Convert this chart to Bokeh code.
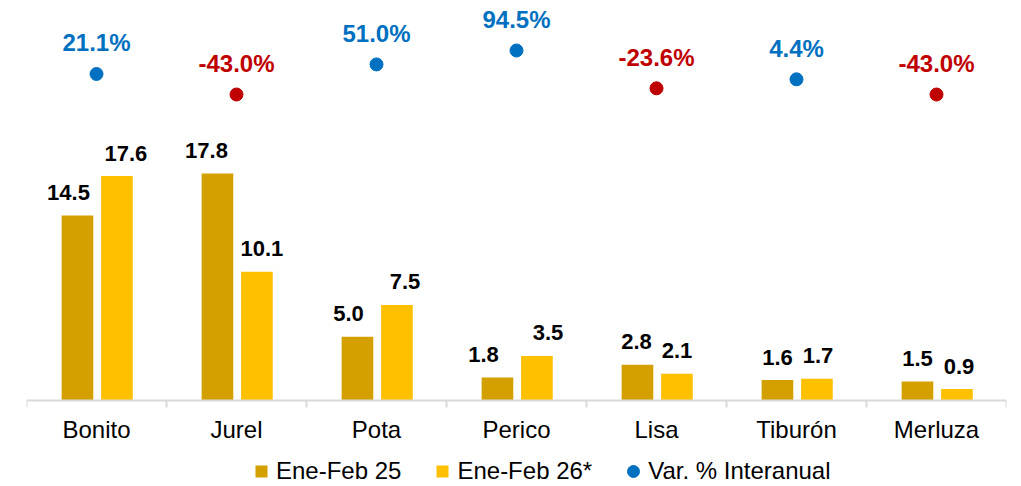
from bokeh.plotting import figure
from bokeh.models import (Range1d, LinearAxis, FixedTicker, ColumnDataSource, Legend,
                          LegendItem, CustomJSTickFormatter)
from bokeh.transform import dodge
from bokeh.core.properties import value
from bokeh.embed import file_html
from bokeh.resources import INLINE
import numpy as np

categories = ["Bonito", "Jurel", "Pota", "Perico", "Lisa", "Tiburón", "Merluza"]
ene_feb_25 = [14.5, 17.8, 5.0, 1.8, 2.8, 1.6, 1.5]
ene_feb_26 = [17.6, 10.1, 7.5, 3.5, 2.1, 1.7, 0.9]
var_pct = [21.1, -43.0, 51.0, 94.5, -23.6, 4.4, -43.0]
series_names = ["Ene-Feb 25", "Ene-Feb 26*", "Var. % Interanual"]

# styling: horizontal nudges (px) of the value labels, as placed in the original
NUDGE_A = [-9, -11, -9, -14, -1, 0, 0]
NUDGE_B = [9, 5, 8, 11, 0, 1, 2]

FONT = "Liberation Sans"
C_DARK = "#D3A000"
C_LIGHT = "#FFC000"
C_POS = "#0070C0"
C_NEG = "#C00000"

pos = np.arange(len(categories)) + 0.5
src = ColumnDataSource(dict(
    x=pos,
    a=ene_feb_25,
    b=ene_feb_26,
    v=var_pct,
    alab=[f"{v:.1f}" for v in ene_feb_25],
    blab=[f"{v:.1f}" for v in ene_feb_26],
    vlab=[f"{v:.1f}%" for v in var_pct],
    vcol=[C_POS if v >= 0 else C_NEG for v in var_pct],
    na=NUDGE_A,
    nb=NUDGE_B,
))

p = figure(frame_width=980, frame_height=478, x_range=Range1d(0, len(categories)),
           y_range=Range1d(-6.745, 30.745), output_backend="svg", toolbar_location=None,
           x_axis_location=None, y_axis_location=None,
           min_border_left=26, min_border_right=7, min_border_top=8, min_border_bottom=0)
p.extra_y_ranges = {"pct": Range1d(-1268.0, 225.75)}
p.outline_line_color = None
p.grid.visible = False

xaxis = LinearAxis(
    fixed_location=0,
    ticker=FixedTicker(ticks=list(pos), minor_ticks=list(range(len(categories) + 1))),
    formatter=CustomJSTickFormatter(args=dict(cats=categories),
                                    code="return cats[Math.floor(tick)] || '';"),
    axis_line_color="#D9D9D9", axis_line_width=2,
    major_tick_line_color=None, major_tick_out=0, major_tick_in=0,
    minor_tick_line_color="#D9D9D9", minor_tick_line_width=2,
    minor_tick_out=7, minor_tick_in=0,
    major_label_text_font=FONT, major_label_text_font_size="24px",
    major_label_text_color="#000000", major_label_standoff=8,
)
p.add_layout(xaxis, "below")

W = 0.226
r_a = p.vbar(x=dodge("x", -0.136, range=p.x_range), top="a", width=W, source=src,
             fill_color=C_DARK, line_color=None)
r_b = p.vbar(x=dodge("x", 0.146, range=p.x_range), top="b", width=W, source=src,
             fill_color=C_LIGHT, line_color=None)

lab_kw = dict(source=src, text_align="center", text_baseline="middle",
              text_font=value(FONT), text_font_style="bold", text_font_size="22px",
              text_color="#000000", y_offset=-23)
p.text(x=dodge("x", -0.136, range=p.x_range), y="a", text="alab", x_offset="na", **lab_kw)
p.text(x=dodge("x", 0.146, range=p.x_range), y="b", text="blab", x_offset="nb", **lab_kw)

r_v = p.scatter(x="x", y="v", y_range_name="pct", size=13, fill_color="vcol",
                line_color="vcol", source=src)
p.text(x="x", y="v", y_range_name="pct", text="vlab", source=src, text_align="center",
       text_baseline="middle", text_font=value(FONT), text_font_style="bold",
       text_font_size="24px", text_color="vcol", y_offset=-31)

# legend swatches: zero-size markers on the bar data, drawn only in the legend
lg_a = p.scatter(x="x", y="a", source=src, marker="square", size=0,
                 fill_color=C_DARK, line_color=None)
lg_b = p.scatter(x="x", y="b", source=src, marker="square", size=0,
                 fill_color=C_LIGHT, line_color=None)

legend = Legend(items=[LegendItem(label=series_names[0], renderers=[lg_a], index=0),
                       LegendItem(label=series_names[1], renderers=[lg_b], index=0),
                       LegendItem(label=series_names[2], renderers=[r_v], index=0)],
                orientation="horizontal", location=(220, 0),
                label_text_font=FONT, label_text_font_size="24px", label_text_color="#000000",
                label_text_baseline="middle",
                glyph_width=30, glyph_height=30, label_standoff=0, spacing=26,
                padding=0, margin=0, border_line_color=None, background_fill_alpha=0)
p.add_layout(legend, "center")

open("out.html", "w").write(file_html(p, INLINE))
